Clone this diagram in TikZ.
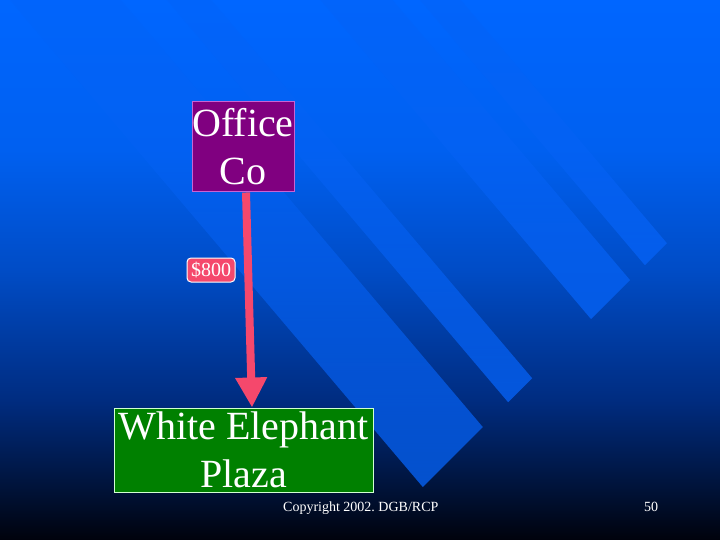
\documentclass[tikz,border=0pt]{standalone}
\usepackage{fontspec}
\setmainfont{Liberation Serif}
\usepackage{tikz}
\usetikzlibrary{arrows.meta,positioning,fadings}
\definecolor{skyA}{RGB}{0,102,255}
\definecolor{skyB}{RGB}{0,96,240}
\definecolor{skyC}{RGB}{0,76,198}
\definecolor{skyD}{RGB}{0,44,128}
\definecolor{skyE}{RGB}{0,18,55}
\definecolor{skyF}{RGB}{0,2,12}
\definecolor{stripeblue}{RGB}{6,98,245}
\definecolor{firmpurple}{RGB}{128,0,128}
\definecolor{firmedge}{RGB}{200,100,210}
\definecolor{plazagreen}{RGB}{0,128,0}
\definecolor{plazaedge}{RGB}{210,255,210}
\definecolor{cashpink}{RGB}{245,72,108}
\tikzfading[name=stripefade, top color=transparent!100, bottom color=transparent!0]
\tikzset{>=stealth,
  firm/.style={draw=#1, line width=1pt, text=white, align=center, inner sep=0pt,
    font=\fontsize{40}{48}\selectfont},
  pricetag/.style={draw=white, fill=cashpink, line width=1pt, rounded corners=4pt,
    text=white, inner sep=0pt, minimum width=48pt, minimum height=24pt,
    font=\fontsize{20}{24}\selectfont},
  footer/.style={text=white, inner sep=0pt, font=\fontsize{14}{16}\selectfont},
  stripe/.style={fill=stripeblue, fill opacity=0.8, path fading=stripefade}
}

\begin{document}
\begin{tikzpicture}[x=1pt,y=-1pt]
  \useasboundingbox (0,0) rectangle (720,540);
  % background
  \shade[top color=skyA, bottom color=skyB] (0,0) rectangle (720,150.5);
  \shade[top color=skyB, bottom color=skyC] (0,150) rectangle (720,270.5);
  \shade[top color=skyC, bottom color=skyD] (0,270) rectangle (720,400.5);
  \shade[top color=skyD, bottom color=skyE] (0,400) rectangle (720,490.5);
  \shade[top color=skyE, bottom color=skyF] (0,490) rectangle (720,540);

  \begin{scope}
    \clip (0,0) rectangle (720,540);
    \foreach \bx/\rx in {423/483, 508/532, 591/630, 645/667}
      \fill[stripe] (\bx,{910-\bx}) -- (\rx,{910-\rx})
        -- ({\rx-(1160-\rx)/1.18},-250) -- ({\bx-(1160-\bx)/1.18},-250) -- cycle;
  \end{scope}

  \node[firm=firmedge, fill=firmpurple, minimum width=102pt, minimum height=90pt]
    (office) at (243,147) {Office\\Co};
  \node[firm=plazaedge, fill=plazagreen, minimum width=259pt, minimum height=84pt]
    (plaza) at (243.5,450) {White Elephant\\Plaza};

  \draw[cashpink, line width=8pt, -{Triangle[width=30pt,length=30pt]}]
    ([xshift=3pt]office.south) -- ([xshift=8.5pt]plaza.north);
  \node[pricetag] (price) at (211,270) {\$800};

  \node[footer, anchor=base west] (copy) at (283,511) {Copyright 2002.\ DGB/RCP};
  \node[footer, anchor=base] (page) at (651,511) {50};
\end{tikzpicture}
\end{document}
